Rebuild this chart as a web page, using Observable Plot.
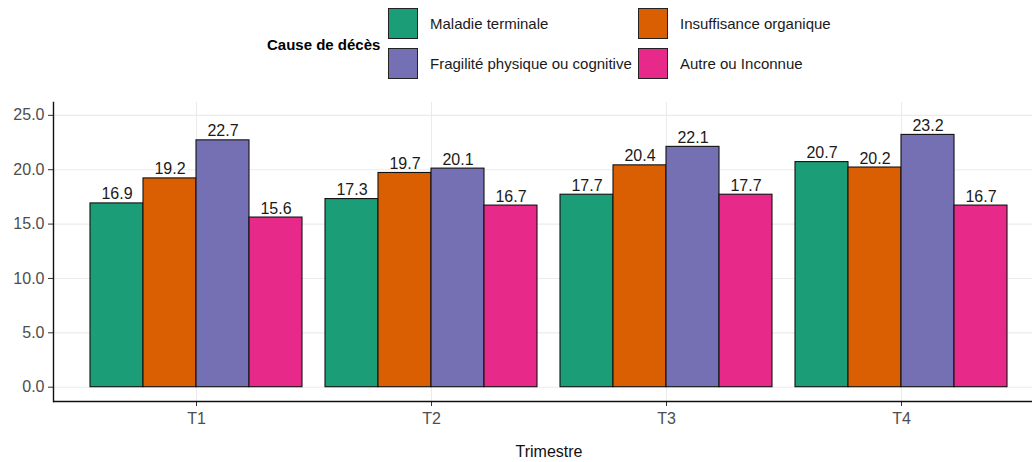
<!DOCTYPE html>
<html>
<head>
<meta charset="utf-8">
<script src="https://cdn.jsdelivr.net/npm/d3@7"></script>
<script src="https://cdn.jsdelivr.net/npm/@observablehq/plot@0.6"></script>
<style>
  html, body { margin: 0; padding: 0; background: #fff; }
  body { width: 1032px; height: 462px; overflow: hidden; font-family: "Liberation Sans", Arial, sans-serif; }
  #legend { position: relative; width: 1032px; height: 88px; }
  #legend .title { position: absolute; left: 267px; top: 44px; transform: translateY(-50%); font-weight: bold; font-size: 15px; color: #000; }
  #legend .grid { position: absolute; left: 388px; top: 8px; display: grid; grid-template-columns: 250px auto; grid-auto-rows: 40px; }
  #legend .item { display: flex; align-items: flex-start; }
  #legend .key { width: 28px; height: 29px; border: 1.3px solid #222; box-sizing: content-box; flex: none; }
  #legend .lab { font-size: 15px; color: #1a1a1a; margin-left: 12px; line-height: 31px; white-space: nowrap; }
  #chart { position: relative; width: 1032px; height: 374px; overflow: hidden; }
  #chart svg { position: absolute; left: 0; top: 0; }
</style>
</head>
<body>
<div id="legend"></div>
<div id="chart"></div>
<script>
const quarters = ["T1", "T2", "T3", "T4"];
const causes = ["Maladie terminale", "Insuffisance organique", "Fragilité physique ou cognitive", "Autre ou Inconnue"];
const colors = ["#1B9E77", "#D95F02", "#7570B3", "#E7298A"];
const valMaladie = [16.9, 17.3, 17.7, 20.7];
const valInsuffisance = [19.2, 19.7, 20.4, 20.2];
const valFragilite = [22.7, 20.1, 22.1, 23.2];
const valAutre = [15.6, 16.7, 17.7, 16.7];
const yTicks = [0, 5, 10, 15, 20, 25];
const legendTitle = "Cause de décès";
const xLabel = "Trimestre";

const series = [valMaladie, valInsuffisance, valFragilite, valAutre];
const data = quarters.flatMap((q, i) => causes.map((c, j) => ({quarter: q, cause: c, value: series[j][i]})));

// Legend (2 columns, row-wise order as in reference)
const leg = document.getElementById("legend");
const t = document.createElement("div"); t.className = "title"; t.textContent = legendTitle; leg.appendChild(t);
const g = document.createElement("div"); g.className = "grid"; leg.appendChild(g);
causes.forEach((c, j) => {
  const it = document.createElement("div"); it.className = "item";
  const k = document.createElement("div"); k.className = "key"; k.style.background = colors[j];
  const l = document.createElement("div"); l.className = "lab"; l.textContent = c;
  it.appendChild(k); it.appendChild(l); g.appendChild(it);
});

const common = {
  width: 1044,
  height: 374,
  marginLeft: 53,
  marginRight: 0,
  marginTop: 14,
  marginBottom: 61,
  y: {domain: [-1.315, 26.18], axis: null}
};
const font = "'Liberation Sans', Arial, sans-serif";

// Background layer: panel grid, axes (band scale on quarters)
const back = Plot.plot({
  ...common,
  style: {fontFamily: font, fontSize: "16px", maxWidth: "none", background: "#fff"},
  x: {type: "band", domain: quarters, paddingInner: 0.1, paddingOuter: 0.15, axis: null},
  marks: [
    Plot.gridY(yTicks, {stroke: "#ebebeb", strokeOpacity: 1, strokeWidth: 1.1}),
    Plot.gridX({stroke: "#ebebeb", strokeOpacity: 1, strokeWidth: 1.1}),
    Plot.axisY(yTicks, {tickFormat: d => d.toFixed(1), tickSize: 5, tickPadding: 4, label: null, color: "#4d4d4d", stroke: "#333", fontSize: 16}),
    Plot.axisX({anchor: "bottom", tickSize: 5, tickPadding: 6, label: null, color: "#4d4d4d", stroke: "#333", fontSize: 16}),
    Plot.text([xLabel], {frameAnchor: "bottom", dy: 55, fill: "#111", fontSize: 16}),
    Plot.ruleY([-1.315], {stroke: "#111", strokeWidth: 1.4}),
    Plot.frame({anchor: "left", stroke: "#111", strokeWidth: 1.4})
  ]
});

// Foreground layer: dodged bars with facets
const front = Plot.plot({
  ...common,
  style: {fontFamily: font, fontSize: "16px", maxWidth: "none", background: "transparent"},
  fx: {domain: quarters, paddingInner: 0.1, paddingOuter: 0.15, label: null, axis: null},
  x: {domain: causes, padding: 0, axis: null},
  color: {domain: causes, range: colors},
  marks: [
    Plot.barY(data, {fx: "quarter", x: "cause", y1: 0, y2: "value", fill: "cause", stroke: "#111", strokeWidth: 1.1}),
    Plot.text(data, {fx: "quarter", x: "cause", y: "value", text: d => d.value.toFixed(1), dy: -4, lineAnchor: "bottom", fill: "#1a1a1a", fontSize: 16})
  ]
});
const c = document.getElementById("chart");
c.appendChild(back);
c.appendChild(front);
</script>
</body>
</html>
